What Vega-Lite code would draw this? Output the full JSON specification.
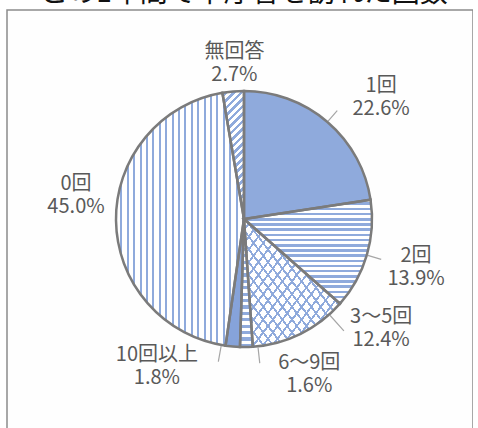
{
  "$schema": "https://vega.github.io/schema/vega-lite/v6.json",
  "width": 466,
  "height": 430,
  "autosize": {"type": "none"},
  "padding": {"left": 7, "top": 10, "right": 0, "bottom": 0},
  "background": "white",
  "view": {"stroke": "#8c8c8c", "strokeWidth": 1.5, "fill": "#fefefe"},
  "title": {"text": "この1年間で本庁舎を訪れた回数", "fontSize": 28, "font": "Noto Sans CJK JP", "fontWeight": "normal", "color": "#111111", "offset": 2, "dx": 4},
  "data": {"values": [
    {"category": "1回", "value": 22.6, "order": 1},
    {"category": "2回", "value": 13.9, "order": 2},
    {"category": "3～5回", "value": 12.4, "order": 3},
    {"category": "6～9回", "value": 1.6, "order": 4},
    {"category": "10回以上", "value": 1.8, "order": 5},
    {"category": "0回", "value": 45.0, "order": 6},
    {"category": "無回答", "value": 2.7, "order": 7}
  ]},
  "transform": [
    {"stack": "value", "groupby": [], "sort": [{"field": "order", "order": "ascending"}], "as": ["t0", "t1"]},
    {"calculate": "(datum.t0 + datum.t1) / 2", "as": "mid"},
    {"calculate": "datum.category + '\\n' + format(datum.value, '.1f') + '%'", "as": "label"}
  ],
  "layer": [
    {
      "transform": [{"filter": "datum.category === '1回'"}],
      "mark": {"type": "arc", "x": 237, "y": 209, "radius": 128, "fill": "#8faadc"},
      "encoding": {"theta": {"field": "t0", "type": "quantitative", "scale": {"domain": [0, 100]}, "stack": null}, "theta2": {"field": "t1"}}
    },
    {
      "transform": [{"filter": "datum.category === '2回' || datum.category === '6～9回'"}],
      "mark": {"type": "arc", "x": 237, "y": 209, "radius": 128, "fill": {"gradient": "linear", "x1": 0, "y1": 0, "x2": 0, "y2": 1, "stops": [
        {"offset": 0, "color": "#fff"}, {"offset": 0.025, "color": "#fff"}, {"offset": 0.025, "color": "#8faadc"}, {"offset": 0.05, "color": "#8faadc"},
        {"offset": 0.05, "color": "#fff"}, {"offset": 0.075, "color": "#fff"}, {"offset": 0.075, "color": "#8faadc"}, {"offset": 0.1, "color": "#8faadc"},
        {"offset": 0.1, "color": "#fff"}, {"offset": 0.125, "color": "#fff"}, {"offset": 0.125, "color": "#8faadc"}, {"offset": 0.15, "color": "#8faadc"},
        {"offset": 0.15, "color": "#fff"}, {"offset": 0.175, "color": "#fff"}, {"offset": 0.175, "color": "#8faadc"}, {"offset": 0.2, "color": "#8faadc"},
        {"offset": 0.2, "color": "#fff"}, {"offset": 0.225, "color": "#fff"}, {"offset": 0.225, "color": "#8faadc"}, {"offset": 0.25, "color": "#8faadc"},
        {"offset": 0.25, "color": "#fff"}, {"offset": 0.275, "color": "#fff"}, {"offset": 0.275, "color": "#8faadc"}, {"offset": 0.3, "color": "#8faadc"},
        {"offset": 0.3, "color": "#fff"}, {"offset": 0.325, "color": "#fff"}, {"offset": 0.325, "color": "#8faadc"}, {"offset": 0.35, "color": "#8faadc"},
        {"offset": 0.35, "color": "#fff"}, {"offset": 0.375, "color": "#fff"}, {"offset": 0.375, "color": "#8faadc"}, {"offset": 0.4, "color": "#8faadc"},
        {"offset": 0.4, "color": "#fff"}, {"offset": 0.425, "color": "#fff"}, {"offset": 0.425, "color": "#8faadc"}, {"offset": 0.45, "color": "#8faadc"},
        {"offset": 0.45, "color": "#fff"}, {"offset": 0.475, "color": "#fff"}, {"offset": 0.475, "color": "#8faadc"}, {"offset": 0.5, "color": "#8faadc"},
        {"offset": 0.5, "color": "#fff"}, {"offset": 0.525, "color": "#fff"}, {"offset": 0.525, "color": "#8faadc"}, {"offset": 0.55, "color": "#8faadc"},
        {"offset": 0.55, "color": "#fff"}, {"offset": 0.575, "color": "#fff"}, {"offset": 0.575, "color": "#8faadc"}, {"offset": 0.6, "color": "#8faadc"},
        {"offset": 0.6, "color": "#fff"}, {"offset": 0.625, "color": "#fff"}, {"offset": 0.625, "color": "#8faadc"}, {"offset": 0.65, "color": "#8faadc"},
        {"offset": 0.65, "color": "#fff"}, {"offset": 0.675, "color": "#fff"}, {"offset": 0.675, "color": "#8faadc"}, {"offset": 0.7, "color": "#8faadc"},
        {"offset": 0.7, "color": "#fff"}, {"offset": 0.725, "color": "#fff"}, {"offset": 0.725, "color": "#8faadc"}, {"offset": 0.75, "color": "#8faadc"},
        {"offset": 0.75, "color": "#fff"}, {"offset": 0.775, "color": "#fff"}, {"offset": 0.775, "color": "#8faadc"}, {"offset": 0.8, "color": "#8faadc"},
        {"offset": 0.8, "color": "#fff"}, {"offset": 0.825, "color": "#fff"}, {"offset": 0.825, "color": "#8faadc"}, {"offset": 0.85, "color": "#8faadc"},
        {"offset": 0.85, "color": "#fff"}, {"offset": 0.875, "color": "#fff"}, {"offset": 0.875, "color": "#8faadc"}, {"offset": 0.9, "color": "#8faadc"},
        {"offset": 0.9, "color": "#fff"}, {"offset": 0.925, "color": "#fff"}, {"offset": 0.925, "color": "#8faadc"}, {"offset": 0.95, "color": "#8faadc"},
        {"offset": 0.95, "color": "#fff"}, {"offset": 0.975, "color": "#fff"}, {"offset": 0.975, "color": "#8faadc"}, {"offset": 1, "color": "#8faadc"}
      ]}},
      "encoding": {"theta": {"field": "t0", "type": "quantitative", "scale": {"domain": [0, 100]}, "stack": null}, "theta2": {"field": "t1"}}
    },
    {
      "transform": [{"filter": "datum.category === '3～5回'"}],
      "mark": {"type": "arc", "x": 237, "y": 209, "radius": 128, "fill": "#ffffff"},
      "encoding": {"theta": {"field": "t0", "type": "quantitative", "scale": {"domain": [0, 100]}, "stack": null}, "theta2": {"field": "t1"}}
    },
    {
      "transform": [{"filter": "datum.category === '3～5回'"}],
      "mark": {"type": "arc", "x": 237, "y": 209, "radius": 128, "fill": {"gradient": "linear", "x1": 0, "y1": 0, "x2": 1, "y2": 1, "stops": [
        {"offset": 0, "color": "rgba(255,255,255,0)"}, {"offset": 0.038, "color": "rgba(255,255,255,0)"}, {"offset": 0.038, "color": "#8faadc"}, {"offset": 0.05, "color": "#8faadc"},
        {"offset": 0.05, "color": "rgba(255,255,255,0)"}, {"offset": 0.088, "color": "rgba(255,255,255,0)"}, {"offset": 0.088, "color": "#8faadc"}, {"offset": 0.1, "color": "#8faadc"},
        {"offset": 0.1, "color": "rgba(255,255,255,0)"}, {"offset": 0.138, "color": "rgba(255,255,255,0)"}, {"offset": 0.138, "color": "#8faadc"}, {"offset": 0.15, "color": "#8faadc"},
        {"offset": 0.15, "color": "rgba(255,255,255,0)"}, {"offset": 0.188, "color": "rgba(255,255,255,0)"}, {"offset": 0.188, "color": "#8faadc"}, {"offset": 0.2, "color": "#8faadc"},
        {"offset": 0.2, "color": "rgba(255,255,255,0)"}, {"offset": 0.238, "color": "rgba(255,255,255,0)"}, {"offset": 0.238, "color": "#8faadc"}, {"offset": 0.25, "color": "#8faadc"},
        {"offset": 0.25, "color": "rgba(255,255,255,0)"}, {"offset": 0.288, "color": "rgba(255,255,255,0)"}, {"offset": 0.288, "color": "#8faadc"}, {"offset": 0.3, "color": "#8faadc"},
        {"offset": 0.3, "color": "rgba(255,255,255,0)"}, {"offset": 0.338, "color": "rgba(255,255,255,0)"}, {"offset": 0.338, "color": "#8faadc"}, {"offset": 0.35, "color": "#8faadc"},
        {"offset": 0.35, "color": "rgba(255,255,255,0)"}, {"offset": 0.388, "color": "rgba(255,255,255,0)"}, {"offset": 0.388, "color": "#8faadc"}, {"offset": 0.4, "color": "#8faadc"},
        {"offset": 0.4, "color": "rgba(255,255,255,0)"}, {"offset": 0.438, "color": "rgba(255,255,255,0)"}, {"offset": 0.438, "color": "#8faadc"}, {"offset": 0.45, "color": "#8faadc"},
        {"offset": 0.45, "color": "rgba(255,255,255,0)"}, {"offset": 0.488, "color": "rgba(255,255,255,0)"}, {"offset": 0.488, "color": "#8faadc"}, {"offset": 0.5, "color": "#8faadc"},
        {"offset": 0.5, "color": "rgba(255,255,255,0)"}, {"offset": 0.538, "color": "rgba(255,255,255,0)"}, {"offset": 0.538, "color": "#8faadc"}, {"offset": 0.55, "color": "#8faadc"},
        {"offset": 0.55, "color": "rgba(255,255,255,0)"}, {"offset": 0.588, "color": "rgba(255,255,255,0)"}, {"offset": 0.588, "color": "#8faadc"}, {"offset": 0.6, "color": "#8faadc"},
        {"offset": 0.6, "color": "rgba(255,255,255,0)"}, {"offset": 0.638, "color": "rgba(255,255,255,0)"}, {"offset": 0.638, "color": "#8faadc"}, {"offset": 0.65, "color": "#8faadc"},
        {"offset": 0.65, "color": "rgba(255,255,255,0)"}, {"offset": 0.688, "color": "rgba(255,255,255,0)"}, {"offset": 0.688, "color": "#8faadc"}, {"offset": 0.7, "color": "#8faadc"},
        {"offset": 0.7, "color": "rgba(255,255,255,0)"}, {"offset": 0.738, "color": "rgba(255,255,255,0)"}, {"offset": 0.738, "color": "#8faadc"}, {"offset": 0.75, "color": "#8faadc"},
        {"offset": 0.75, "color": "rgba(255,255,255,0)"}, {"offset": 0.788, "color": "rgba(255,255,255,0)"}, {"offset": 0.788, "color": "#8faadc"}, {"offset": 0.8, "color": "#8faadc"},
        {"offset": 0.8, "color": "rgba(255,255,255,0)"}, {"offset": 0.838, "color": "rgba(255,255,255,0)"}, {"offset": 0.838, "color": "#8faadc"}, {"offset": 0.85, "color": "#8faadc"},
        {"offset": 0.85, "color": "rgba(255,255,255,0)"}, {"offset": 0.888, "color": "rgba(255,255,255,0)"}, {"offset": 0.888, "color": "#8faadc"}, {"offset": 0.9, "color": "#8faadc"},
        {"offset": 0.9, "color": "rgba(255,255,255,0)"}, {"offset": 0.938, "color": "rgba(255,255,255,0)"}, {"offset": 0.938, "color": "#8faadc"}, {"offset": 0.95, "color": "#8faadc"},
        {"offset": 0.95, "color": "rgba(255,255,255,0)"}, {"offset": 0.988, "color": "rgba(255,255,255,0)"}, {"offset": 0.988, "color": "#8faadc"}, {"offset": 1, "color": "#8faadc"}
      ]}},
      "encoding": {"theta": {"field": "t0", "type": "quantitative", "scale": {"domain": [0, 100]}, "stack": null}, "theta2": {"field": "t1"}}
    },
    {
      "transform": [{"filter": "datum.category === '3～5回'"}],
      "mark": {"type": "arc", "x": 237, "y": 209, "radius": 128, "fill": {"gradient": "linear", "x1": 1, "y1": 0, "x2": 0, "y2": 1, "stops": [
        {"offset": 0, "color": "rgba(255,255,255,0)"}, {"offset": 0.038, "color": "rgba(255,255,255,0)"}, {"offset": 0.038, "color": "#8faadc"}, {"offset": 0.05, "color": "#8faadc"},
        {"offset": 0.05, "color": "rgba(255,255,255,0)"}, {"offset": 0.088, "color": "rgba(255,255,255,0)"}, {"offset": 0.088, "color": "#8faadc"}, {"offset": 0.1, "color": "#8faadc"},
        {"offset": 0.1, "color": "rgba(255,255,255,0)"}, {"offset": 0.138, "color": "rgba(255,255,255,0)"}, {"offset": 0.138, "color": "#8faadc"}, {"offset": 0.15, "color": "#8faadc"},
        {"offset": 0.15, "color": "rgba(255,255,255,0)"}, {"offset": 0.188, "color": "rgba(255,255,255,0)"}, {"offset": 0.188, "color": "#8faadc"}, {"offset": 0.2, "color": "#8faadc"},
        {"offset": 0.2, "color": "rgba(255,255,255,0)"}, {"offset": 0.238, "color": "rgba(255,255,255,0)"}, {"offset": 0.238, "color": "#8faadc"}, {"offset": 0.25, "color": "#8faadc"},
        {"offset": 0.25, "color": "rgba(255,255,255,0)"}, {"offset": 0.288, "color": "rgba(255,255,255,0)"}, {"offset": 0.288, "color": "#8faadc"}, {"offset": 0.3, "color": "#8faadc"},
        {"offset": 0.3, "color": "rgba(255,255,255,0)"}, {"offset": 0.338, "color": "rgba(255,255,255,0)"}, {"offset": 0.338, "color": "#8faadc"}, {"offset": 0.35, "color": "#8faadc"},
        {"offset": 0.35, "color": "rgba(255,255,255,0)"}, {"offset": 0.388, "color": "rgba(255,255,255,0)"}, {"offset": 0.388, "color": "#8faadc"}, {"offset": 0.4, "color": "#8faadc"},
        {"offset": 0.4, "color": "rgba(255,255,255,0)"}, {"offset": 0.438, "color": "rgba(255,255,255,0)"}, {"offset": 0.438, "color": "#8faadc"}, {"offset": 0.45, "color": "#8faadc"},
        {"offset": 0.45, "color": "rgba(255,255,255,0)"}, {"offset": 0.488, "color": "rgba(255,255,255,0)"}, {"offset": 0.488, "color": "#8faadc"}, {"offset": 0.5, "color": "#8faadc"},
        {"offset": 0.5, "color": "rgba(255,255,255,0)"}, {"offset": 0.538, "color": "rgba(255,255,255,0)"}, {"offset": 0.538, "color": "#8faadc"}, {"offset": 0.55, "color": "#8faadc"},
        {"offset": 0.55, "color": "rgba(255,255,255,0)"}, {"offset": 0.588, "color": "rgba(255,255,255,0)"}, {"offset": 0.588, "color": "#8faadc"}, {"offset": 0.6, "color": "#8faadc"},
        {"offset": 0.6, "color": "rgba(255,255,255,0)"}, {"offset": 0.638, "color": "rgba(255,255,255,0)"}, {"offset": 0.638, "color": "#8faadc"}, {"offset": 0.65, "color": "#8faadc"},
        {"offset": 0.65, "color": "rgba(255,255,255,0)"}, {"offset": 0.688, "color": "rgba(255,255,255,0)"}, {"offset": 0.688, "color": "#8faadc"}, {"offset": 0.7, "color": "#8faadc"},
        {"offset": 0.7, "color": "rgba(255,255,255,0)"}, {"offset": 0.738, "color": "rgba(255,255,255,0)"}, {"offset": 0.738, "color": "#8faadc"}, {"offset": 0.75, "color": "#8faadc"},
        {"offset": 0.75, "color": "rgba(255,255,255,0)"}, {"offset": 0.788, "color": "rgba(255,255,255,0)"}, {"offset": 0.788, "color": "#8faadc"}, {"offset": 0.8, "color": "#8faadc"},
        {"offset": 0.8, "color": "rgba(255,255,255,0)"}, {"offset": 0.838, "color": "rgba(255,255,255,0)"}, {"offset": 0.838, "color": "#8faadc"}, {"offset": 0.85, "color": "#8faadc"},
        {"offset": 0.85, "color": "rgba(255,255,255,0)"}, {"offset": 0.888, "color": "rgba(255,255,255,0)"}, {"offset": 0.888, "color": "#8faadc"}, {"offset": 0.9, "color": "#8faadc"},
        {"offset": 0.9, "color": "rgba(255,255,255,0)"}, {"offset": 0.938, "color": "rgba(255,255,255,0)"}, {"offset": 0.938, "color": "#8faadc"}, {"offset": 0.95, "color": "#8faadc"},
        {"offset": 0.95, "color": "rgba(255,255,255,0)"}, {"offset": 0.988, "color": "rgba(255,255,255,0)"}, {"offset": 0.988, "color": "#8faadc"}, {"offset": 1, "color": "#8faadc"}
      ]}},
      "encoding": {"theta": {"field": "t0", "type": "quantitative", "scale": {"domain": [0, 100]}, "stack": null}, "theta2": {"field": "t1"}}
    },
    {
      "transform": [{"filter": "datum.category === '10回以上'"}],
      "mark": {"type": "arc", "x": 237, "y": 209, "radius": 128, "fill": "#86a3da"},
      "encoding": {"theta": {"field": "t0", "type": "quantitative", "scale": {"domain": [0, 100]}, "stack": null}, "theta2": {"field": "t1"}}
    },
    {
      "transform": [{"filter": "datum.category === '0回'"}],
      "mark": {"type": "arc", "x": 237, "y": 209, "radius": 128, "fill": {"gradient": "linear", "x1": 0, "y1": 0, "x2": 1, "y2": 0, "stops": [
        {"offset": 0, "color": "#fff"}, {"offset": 0.035, "color": "#fff"}, {"offset": 0.035, "color": "#8faadc"}, {"offset": 0.05, "color": "#8faadc"},
        {"offset": 0.05, "color": "#fff"}, {"offset": 0.085, "color": "#fff"}, {"offset": 0.085, "color": "#8faadc"}, {"offset": 0.1, "color": "#8faadc"},
        {"offset": 0.1, "color": "#fff"}, {"offset": 0.135, "color": "#fff"}, {"offset": 0.135, "color": "#8faadc"}, {"offset": 0.15, "color": "#8faadc"},
        {"offset": 0.15, "color": "#fff"}, {"offset": 0.185, "color": "#fff"}, {"offset": 0.185, "color": "#8faadc"}, {"offset": 0.2, "color": "#8faadc"},
        {"offset": 0.2, "color": "#fff"}, {"offset": 0.235, "color": "#fff"}, {"offset": 0.235, "color": "#8faadc"}, {"offset": 0.25, "color": "#8faadc"},
        {"offset": 0.25, "color": "#fff"}, {"offset": 0.285, "color": "#fff"}, {"offset": 0.285, "color": "#8faadc"}, {"offset": 0.3, "color": "#8faadc"},
        {"offset": 0.3, "color": "#fff"}, {"offset": 0.335, "color": "#fff"}, {"offset": 0.335, "color": "#8faadc"}, {"offset": 0.35, "color": "#8faadc"},
        {"offset": 0.35, "color": "#fff"}, {"offset": 0.385, "color": "#fff"}, {"offset": 0.385, "color": "#8faadc"}, {"offset": 0.4, "color": "#8faadc"},
        {"offset": 0.4, "color": "#fff"}, {"offset": 0.435, "color": "#fff"}, {"offset": 0.435, "color": "#8faadc"}, {"offset": 0.45, "color": "#8faadc"},
        {"offset": 0.45, "color": "#fff"}, {"offset": 0.485, "color": "#fff"}, {"offset": 0.485, "color": "#8faadc"}, {"offset": 0.5, "color": "#8faadc"},
        {"offset": 0.5, "color": "#fff"}, {"offset": 0.535, "color": "#fff"}, {"offset": 0.535, "color": "#8faadc"}, {"offset": 0.55, "color": "#8faadc"},
        {"offset": 0.55, "color": "#fff"}, {"offset": 0.585, "color": "#fff"}, {"offset": 0.585, "color": "#8faadc"}, {"offset": 0.6, "color": "#8faadc"},
        {"offset": 0.6, "color": "#fff"}, {"offset": 0.635, "color": "#fff"}, {"offset": 0.635, "color": "#8faadc"}, {"offset": 0.65, "color": "#8faadc"},
        {"offset": 0.65, "color": "#fff"}, {"offset": 0.685, "color": "#fff"}, {"offset": 0.685, "color": "#8faadc"}, {"offset": 0.7, "color": "#8faadc"},
        {"offset": 0.7, "color": "#fff"}, {"offset": 0.735, "color": "#fff"}, {"offset": 0.735, "color": "#8faadc"}, {"offset": 0.75, "color": "#8faadc"},
        {"offset": 0.75, "color": "#fff"}, {"offset": 0.785, "color": "#fff"}, {"offset": 0.785, "color": "#8faadc"}, {"offset": 0.8, "color": "#8faadc"},
        {"offset": 0.8, "color": "#fff"}, {"offset": 0.835, "color": "#fff"}, {"offset": 0.835, "color": "#8faadc"}, {"offset": 0.85, "color": "#8faadc"},
        {"offset": 0.85, "color": "#fff"}, {"offset": 0.885, "color": "#fff"}, {"offset": 0.885, "color": "#8faadc"}, {"offset": 0.9, "color": "#8faadc"},
        {"offset": 0.9, "color": "#fff"}, {"offset": 0.935, "color": "#fff"}, {"offset": 0.935, "color": "#8faadc"}, {"offset": 0.95, "color": "#8faadc"},
        {"offset": 0.95, "color": "#fff"}, {"offset": 0.985, "color": "#fff"}, {"offset": 0.985, "color": "#8faadc"}, {"offset": 1, "color": "#8faadc"}
      ]}},
      "encoding": {"theta": {"field": "t0", "type": "quantitative", "scale": {"domain": [0, 100]}, "stack": null}, "theta2": {"field": "t1"}}
    },
    {
      "transform": [{"filter": "datum.category === '無回答'"}],
      "mark": {"type": "arc", "x": 237, "y": 209, "radius": 128, "fill": {"gradient": "linear", "x1": 0, "y1": 0, "x2": 0.192, "y2": 1.137, "stops": [
        {"offset": 0, "color": "#fff"}, {"offset": 0.025, "color": "#fff"}, {"offset": 0.025, "color": "#8faadc"}, {"offset": 0.05, "color": "#8faadc"},
        {"offset": 0.05, "color": "#fff"}, {"offset": 0.075, "color": "#fff"}, {"offset": 0.075, "color": "#8faadc"}, {"offset": 0.1, "color": "#8faadc"},
        {"offset": 0.1, "color": "#fff"}, {"offset": 0.125, "color": "#fff"}, {"offset": 0.125, "color": "#8faadc"}, {"offset": 0.15, "color": "#8faadc"},
        {"offset": 0.15, "color": "#fff"}, {"offset": 0.175, "color": "#fff"}, {"offset": 0.175, "color": "#8faadc"}, {"offset": 0.2, "color": "#8faadc"},
        {"offset": 0.2, "color": "#fff"}, {"offset": 0.225, "color": "#fff"}, {"offset": 0.225, "color": "#8faadc"}, {"offset": 0.25, "color": "#8faadc"},
        {"offset": 0.25, "color": "#fff"}, {"offset": 0.275, "color": "#fff"}, {"offset": 0.275, "color": "#8faadc"}, {"offset": 0.3, "color": "#8faadc"},
        {"offset": 0.3, "color": "#fff"}, {"offset": 0.325, "color": "#fff"}, {"offset": 0.325, "color": "#8faadc"}, {"offset": 0.35, "color": "#8faadc"},
        {"offset": 0.35, "color": "#fff"}, {"offset": 0.375, "color": "#fff"}, {"offset": 0.375, "color": "#8faadc"}, {"offset": 0.4, "color": "#8faadc"},
        {"offset": 0.4, "color": "#fff"}, {"offset": 0.425, "color": "#fff"}, {"offset": 0.425, "color": "#8faadc"}, {"offset": 0.45, "color": "#8faadc"},
        {"offset": 0.45, "color": "#fff"}, {"offset": 0.475, "color": "#fff"}, {"offset": 0.475, "color": "#8faadc"}, {"offset": 0.5, "color": "#8faadc"},
        {"offset": 0.5, "color": "#fff"}, {"offset": 0.525, "color": "#fff"}, {"offset": 0.525, "color": "#8faadc"}, {"offset": 0.55, "color": "#8faadc"},
        {"offset": 0.55, "color": "#fff"}, {"offset": 0.575, "color": "#fff"}, {"offset": 0.575, "color": "#8faadc"}, {"offset": 0.6, "color": "#8faadc"},
        {"offset": 0.6, "color": "#fff"}, {"offset": 0.625, "color": "#fff"}, {"offset": 0.625, "color": "#8faadc"}, {"offset": 0.65, "color": "#8faadc"},
        {"offset": 0.65, "color": "#fff"}, {"offset": 0.675, "color": "#fff"}, {"offset": 0.675, "color": "#8faadc"}, {"offset": 0.7, "color": "#8faadc"},
        {"offset": 0.7, "color": "#fff"}, {"offset": 0.725, "color": "#fff"}, {"offset": 0.725, "color": "#8faadc"}, {"offset": 0.75, "color": "#8faadc"},
        {"offset": 0.75, "color": "#fff"}, {"offset": 0.775, "color": "#fff"}, {"offset": 0.775, "color": "#8faadc"}, {"offset": 0.8, "color": "#8faadc"},
        {"offset": 0.8, "color": "#fff"}, {"offset": 0.825, "color": "#fff"}, {"offset": 0.825, "color": "#8faadc"}, {"offset": 0.85, "color": "#8faadc"},
        {"offset": 0.85, "color": "#fff"}, {"offset": 0.875, "color": "#fff"}, {"offset": 0.875, "color": "#8faadc"}, {"offset": 0.9, "color": "#8faadc"},
        {"offset": 0.9, "color": "#fff"}, {"offset": 0.925, "color": "#fff"}, {"offset": 0.925, "color": "#8faadc"}, {"offset": 0.95, "color": "#8faadc"},
        {"offset": 0.95, "color": "#fff"}, {"offset": 0.975, "color": "#fff"}, {"offset": 0.975, "color": "#8faadc"}, {"offset": 1, "color": "#8faadc"}
      ]}},
      "encoding": {"theta": {"field": "t0", "type": "quantitative", "scale": {"domain": [0, 100]}, "stack": null}, "theta2": {"field": "t1"}}
    },
    {
      "mark": {"type": "arc", "x": 237, "y": 209, "radius": 128, "fillOpacity": 0, "stroke": "#7b7b7b", "strokeWidth": 2.5},
      "encoding": {"theta": {"field": "t0", "type": "quantitative", "scale": {"domain": [0, 100]}, "stack": null}, "theta2": {"field": "t1"}}
    },
    {
      "transform": [{"filter": {"field": "category", "oneOf": ["1回", "2回"]}}],
      "mark": {"type": "arc", "x": 237, "y": 209, "radius": 143, "radius2": 129, "fillOpacity": 0, "stroke": "#a6a6a6", "strokeWidth": 1.2},
      "encoding": {"theta": {"field": "mid", "type": "quantitative", "scale": {"domain": [0, 100]}, "stack": null}, "theta2": {"field": "mid"}}
    },
    {
      "transform": [{"filter": "datum.category === '3～5回'"}],
      "mark": {"type": "arc", "x": 237, "y": 209, "radius": 150, "radius2": 129, "thetaOffset": -0.27, "theta2Offset": -0.27, "fillOpacity": 0, "stroke": "#a6a6a6", "strokeWidth": 1.2},
      "encoding": {"theta": {"field": "mid", "type": "quantitative", "scale": {"domain": [0, 100]}, "stack": null}, "theta2": {"field": "mid"}}
    },
    {
      "transform": [{"filter": "datum.category === '6～9回'"}],
      "mark": {"type": "arc", "x": 237, "y": 209, "radius": 145, "radius2": 129, "thetaOffset": -0.09, "theta2Offset": -0.09, "fillOpacity": 0, "stroke": "#a6a6a6", "strokeWidth": 1.2},
      "encoding": {"theta": {"field": "mid", "type": "quantitative", "scale": {"domain": [0, 100]}, "stack": null}, "theta2": {"field": "mid"}}
    },
    {
      "transform": [{"filter": "datum.category === '10回以上'"}],
      "mark": {"type": "arc", "x": 237, "y": 209, "radius": 145, "radius2": 129, "thetaOffset": 0.09, "theta2Offset": 0.09, "fillOpacity": 0, "stroke": "#a6a6a6", "strokeWidth": 1.2},
      "encoding": {"theta": {"field": "mid", "type": "quantitative", "scale": {"domain": [0, 100]}, "stack": null}, "theta2": {"field": "mid"}}
    },
    {
      "transform": [{"filter": "datum.category === '1回'"}],
      "mark": {"type": "text", "x": 237, "y": 209, "radius": 172, "dx": 25, "dy": -3, "font": "Noto Sans CJK JP", "fontSize": 20, "lineHeight": 23, "color": "#595959", "align": "center", "baseline": "middle", "lineBreak": "\n"},
      "encoding": {"theta": {"field": "mid", "type": "quantitative", "scale": {"domain": [0, 100]}}, "text": {"field": "label"}}
    },
    {
      "transform": [{"filter": "datum.category === '2回'"}],
      "mark": {"type": "text", "x": 237, "y": 209, "radius": 172, "dx": 7, "dy": -12, "font": "Noto Sans CJK JP", "fontSize": 20, "lineHeight": 23, "color": "#595959", "align": "center", "baseline": "middle", "lineBreak": "\n"},
      "encoding": {"theta": {"field": "mid", "type": "quantitative", "scale": {"domain": [0, 100]}}, "text": {"field": "label"}}
    },
    {
      "transform": [{"filter": "datum.category === '3～5回'"}],
      "mark": {"type": "text", "x": 237, "y": 209, "radius": 172, "dx": 61, "dy": -56, "font": "Noto Sans CJK JP", "fontSize": 20, "lineHeight": 23, "color": "#595959", "align": "center", "baseline": "middle", "lineBreak": "\n"},
      "encoding": {"theta": {"field": "mid", "type": "quantitative", "scale": {"domain": [0, 100]}}, "text": {"field": "label"}}
    },
    {
      "transform": [{"filter": "datum.category === '6～9回'"}],
      "mark": {"type": "text", "x": 237, "y": 209, "radius": 172, "dx": 62, "dy": -28, "font": "Noto Sans CJK JP", "fontSize": 20, "lineHeight": 23, "color": "#595959", "align": "center", "baseline": "middle", "lineBreak": "\n"},
      "encoding": {"theta": {"field": "mid", "type": "quantitative", "scale": {"domain": [0, 100]}}, "text": {"field": "label"}}
    },
    {
      "transform": [{"filter": "datum.category === '10回以上'"}],
      "mark": {"type": "text", "x": 237, "y": 209, "radius": 172, "dx": -72, "dy": -35, "font": "Noto Sans CJK JP", "fontSize": 20, "lineHeight": 23, "color": "#595959", "align": "center", "baseline": "middle", "lineBreak": "\n"},
      "encoding": {"theta": {"field": "mid", "type": "quantitative", "scale": {"domain": [0, 100]}}, "text": {"field": "label"}}
    },
    {
      "transform": [{"filter": "datum.category === '0回'"}],
      "mark": {"type": "text", "x": 237, "y": 209, "radius": 172, "dx": 4, "dy": -37, "font": "Noto Sans CJK JP", "fontSize": 20, "lineHeight": 23, "color": "#595959", "align": "center", "baseline": "middle", "lineBreak": "\n"},
      "encoding": {"theta": {"field": "mid", "type": "quantitative", "scale": {"domain": [0, 100]}}, "text": {"field": "label"}}
    },
    {
      "transform": [{"filter": "datum.category === '無回答'"}],
      "mark": {"type": "text", "x": 237, "y": 209, "radius": 172, "dx": 5, "dy": 4, "font": "Noto Sans CJK JP", "fontSize": 20, "lineHeight": 23, "color": "#595959", "align": "center", "baseline": "middle", "lineBreak": "\n"},
      "encoding": {"theta": {"field": "mid", "type": "quantitative", "scale": {"domain": [0, 100]}}, "text": {"field": "label"}}
    }
  ]
}
